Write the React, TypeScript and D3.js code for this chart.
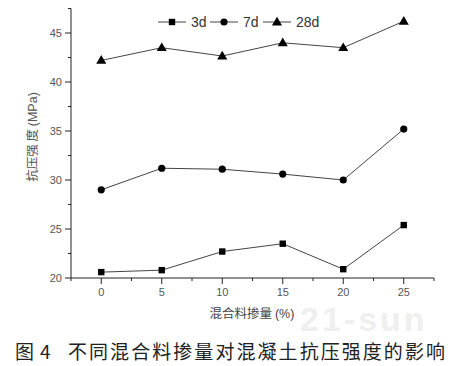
import React from "react";
import * as d3 from "d3";

const dosages = [0, 5, 10, 15, 20, 25];
const strength3d = [20.6, 20.8, 22.7, 23.5, 20.9, 25.4];
const strength7d = [29.0, 31.2, 31.1, 30.6, 30.0, 35.2];
const strength28d = [42.2, 43.5, 42.65, 44.0, 43.5, 46.2];
const seriesNames = ["3d", "7d", "28d"];
const yTicks = [20, 25, 30, 35, 40, 45];
const xTicks = [0, 5, 10, 15, 20, 25];

const W = 459;
const H = 366;
const font = "'Liberation Sans', Arial, sans-serif";
const cjk = "'Noto Sans CJK SC', sans-serif";

const x = d3.scaleLinear().domain([-2.5, 27.5]).range([71, 434]);
const y = d3.scaleLinear().domain([20, 47.5]).range([278, 8.5]);

const marker = (kind: string, cx: number, cy: number, key: string) => {
  if (kind === "3d") return <rect key={key} x={cx - 3.2} y={cy - 3.2} width={6.4} height={6.4} fill="#000" />;
  if (kind === "7d") return <circle key={key} cx={cx} cy={cy} r={3.6} fill="#000" />;
  const tri = d3.symbol().type(d3.symbolTriangle).size(44)();
  return <path key={key} d={tri ?? ""} transform={`translate(${cx},${cy + 0.5})`} fill="#000" />;
};

export default function App() {
  const series = [strength3d, strength7d, strength28d];
  const line = d3
    .line<number>()
    .x((_, i) => x(dosages[i]))
    .y((d) => y(d));
  const minorX = d3.range(-2.5, 27.6, 5);
  const minorY = d3.range(22.5, 47.6, 5);
  const legendX = [158, 210, 263];
  const legendY = 22;

  return (
    <svg width={W} height={H} style={{ position: "absolute", left: 0, top: 0, background: "#fff" }}>
      {/* watermark */}
      <text x={300} y={331} fontFamily={font} fontWeight="bold" fontSize={34} fill="#efefef" letterSpacing={3}>
        21-sun
      </text>

      {/* axes */}
      <line x1={71} x2={71} y1={y(47.5)} y2={278} stroke="#222" strokeWidth={1} />
      <line x1={71} x2={434} y1={278} y2={278} stroke="#222" strokeWidth={1} />
      {yTicks.map((t) => (
        <g key={"y" + t}>
          <line x1={65} x2={71} y1={y(t)} y2={y(t)} stroke="#222" />
          <text x={62} y={y(t) + 4} textAnchor="end" fontFamily={font} fontSize={11} fill="#555">
            {t}
          </text>
        </g>
      ))}
      {minorY.map((t) => (
        <line key={"my" + t} x1={68} x2={71} y1={y(t)} y2={y(t)} stroke="#222" />
      ))}
      {xTicks.map((t) => (
        <g key={"x" + t}>
          <line x1={x(t)} x2={x(t)} y1={278} y2={284} stroke="#222" />
          <text x={x(t)} y={296} textAnchor="middle" fontFamily={font} fontSize={11} fill="#555">
            {t}
          </text>
        </g>
      ))}
      {minorX.map((t) => (
        <line key={"mx" + t} x1={x(t)} x2={x(t)} y1={278} y2={281} stroke="#222" />
      ))}

      {/* axis titles */}
      <text
        transform="translate(37,137) rotate(-90)"
        textAnchor="middle"
        fontFamily={cjk}
        fontSize={12.5}
        fill="#555"
      >
        抗压强 度 <tspan fontFamily={font}>(MPa)</tspan>
      </text>
      <text x={252} y={318} textAnchor="middle" fontFamily={cjk} fontSize={12.5} fill="#444">
        混合料掺量 <tspan fontFamily={font}>(%)</tspan>
      </text>

      {/* series */}
      {series.map((s, si) => (
        <g key={"s" + si}>
          <path d={line(s) ?? ""} fill="none" stroke="#444" strokeWidth={1} />
          {s.map((v, i) => marker(seriesNames[si], x(dosages[i]), y(v), `m${si}-${i}`))}
        </g>
      ))}

      {/* legend */}
      {seriesNames.map((n, i) => (
        <g key={"l" + n}>
          <line x1={legendX[i]} x2={legendX[i] + 28} y1={legendY} y2={legendY} stroke="#444" />
          {marker(n, legendX[i] + 14, legendY, "lm" + n)}
          <text x={legendX[i] + 33} y={legendY + 5} fontFamily={font} fontSize={14} fill="#333">
            {n}
          </text>
        </g>
      ))}

      {/* caption */}
      <text x={15} y={359} fontFamily={cjk} fontSize={19} fill="#222">
        图
      </text>
      <text x={40} y={359} fontFamily={cjk} fontSize={19} fill="#222">
        4
      </text>
      <text x={68} y={359} fontFamily={cjk} fontSize={19} fill="#222" textLength={377} lengthAdjust="spacing">
        不同混合料掺量对混凝土抗压强度的影响
      </text>
    </svg>
  );
}
